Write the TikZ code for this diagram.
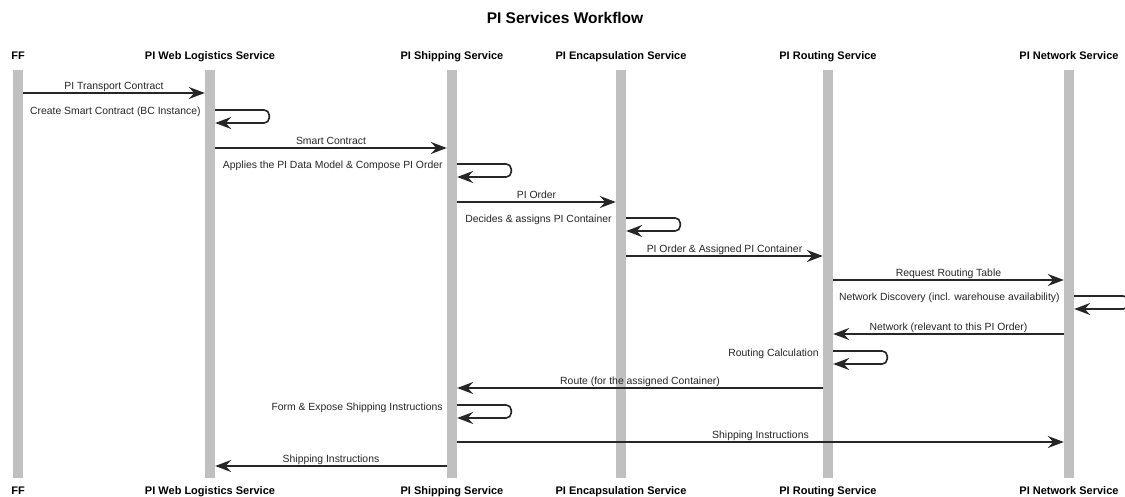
\documentclass[tikz,border=0pt]{standalone}
\usepackage{fontspec}
\setmainfont{Liberation Sans}
\usetikzlibrary{arrows.meta}
\definecolor{barg}{HTML}{C0C0C0}
\definecolor{ink}{HTML}{262626}
\tikzset{
  lifebar/.style={fill=barg, draw=none, minimum width=10pt, minimum height=408pt, inner sep=0pt},
  hdr/.style={font=\fontsize{11}{13}\selectfont\bfseries, inner sep=0pt, anchor=base},
  ttl/.style={font=\fontsize{15.5}{18}\selectfont\bfseries, inner sep=0pt, anchor=base},
  msg/.style={draw=ink, line width=1.6pt, -{Stealth[length=16pt, width=12pt, inset=5.5pt]}},
  selfmsg/.style={msg, rounded corners=5pt},
  lbl/.style={font=\fontsize{10.4}{12}\selectfont, text=ink, inner sep=0pt, anchor=base, midway, yshift=3.5pt},
  slbl/.style={font=\fontsize{10.4}{12}\selectfont, text=ink, inner sep=0pt, anchor=base east, xshift=-4pt, yshift=-4pt},
}
\begin{document}
\begin{tikzpicture}[x=1pt, y=-1pt]
\useasboundingbox (0,0) rectangle (1125,497);
\clip (0,0) rectangle (1125,497);
\fill[white] (0,0) rectangle (1125,497);
\node[ttl] (title) at (565,23.5) {PI Services Workflow};
% lifelines
\node[lifebar] (ff)   at (18,274) {};
\node[lifebar] (web)  at (210,274) {};
\node[lifebar] (ship) at (452,274) {};
\node[lifebar] (enc)  at (621,274) {};
\node[lifebar] (rout) at (828,274) {};
\node[lifebar] (net)  at (1069,274) {};
% headers
\node[hdr] (hff)   at (18,59.5) {FF};
\node[hdr] (hweb)  at (210,59.5) {PI Web Logistics Service};
\node[hdr] (hship) at (452,59.5) {PI Shipping Service};
\node[hdr] (henc)  at (621,59.5) {PI Encapsulation Service};
\node[hdr] (hrout) at (828,59.5) {PI Routing Service};
\node[hdr] (hnet)  at (1069,59.5) {PI Network Service};
% footers
\node[hdr] (fff)   at (18,494) {FF};
\node[hdr] (fweb)  at (210,494) {PI Web Logistics Service};
\node[hdr] (fship) at (452,494) {PI Shipping Service};
\node[hdr] (fenc)  at (621,494) {PI Encapsulation Service};
\node[hdr] (frout) at (828,494) {PI Routing Service};
\node[hdr] (fnet)  at (1069,494) {PI Network Service};
% messages
\draw[msg] (ff.east |- 0,93) -- node[lbl] {PI Transport Contract} (web.west |- 0,93);
\node[slbl] (s1) at (web.west |- 0,111) {Create Smart Contract (BC Instance)};
\draw[selfmsg] (web.east |- 0,110) -- ++(54,0) -- ++(0,13) -- (web.east |- 0,123);
\draw[msg] (web.east |- 0,148) -- node[lbl] {Smart Contract} (ship.west |- 0,148);
\node[slbl] (s2) at (ship.west |- 0,165) {Applies the PI Data Model \& Compose PI Order};
\draw[selfmsg] (ship.east |- 0,164) -- ++(54,0) -- ++(0,13) -- (ship.east |- 0,177);
\draw[msg] (ship.east |- 0,202) -- node[lbl] {PI Order} (enc.west |- 0,202);
\node[slbl] (s3) at (enc.west |- 0,219) {Decides \& assigns PI Container};
\draw[selfmsg] (enc.east |- 0,218) -- ++(54,0) -- ++(0,13) -- (enc.east |- 0,231);
\draw[msg] (enc.east |- 0,256) -- node[lbl] {PI Order \& Assigned PI Container} (rout.west |- 0,256);
\draw[msg] (rout.east |- 0,280) -- node[lbl] {Request Routing Table} (net.west |- 0,280);
\node[slbl] (s4) at (net.west |- 0,297) {Network Discovery (incl. warehouse availability)};
\draw[selfmsg] (net.east |- 0,296) -- ++(54,0) -- ++(0,13) -- (net.east |- 0,309);
\draw[msg] (net.west |- 0,334) -- node[lbl] {Network (relevant to this PI Order)} (rout.east |- 0,334);
\node[slbl] (s5) at (rout.west |- 0,352) {Routing Calculation};
\draw[selfmsg] (rout.east |- 0,351) -- ++(54,0) -- ++(0,13) -- (rout.east |- 0,364);
\draw[msg] (rout.west |- 0,388) -- node[lbl] {Route (for the assigned Container)} (ship.east |- 0,388);
\node[slbl] (s6) at (ship.west |- 0,406) {Form \& Expose Shipping Instructions};
\draw[selfmsg] (ship.east |- 0,405) -- ++(54,0) -- ++(0,13) -- (ship.east |- 0,418);
\draw[msg] (ship.east |- 0,442) -- node[lbl] {Shipping Instructions} (net.west |- 0,442);
\draw[msg] (ship.west |- 0,466) -- node[lbl] {Shipping Instructions} (web.east |- 0,466);
\end{tikzpicture}
\end{document}
